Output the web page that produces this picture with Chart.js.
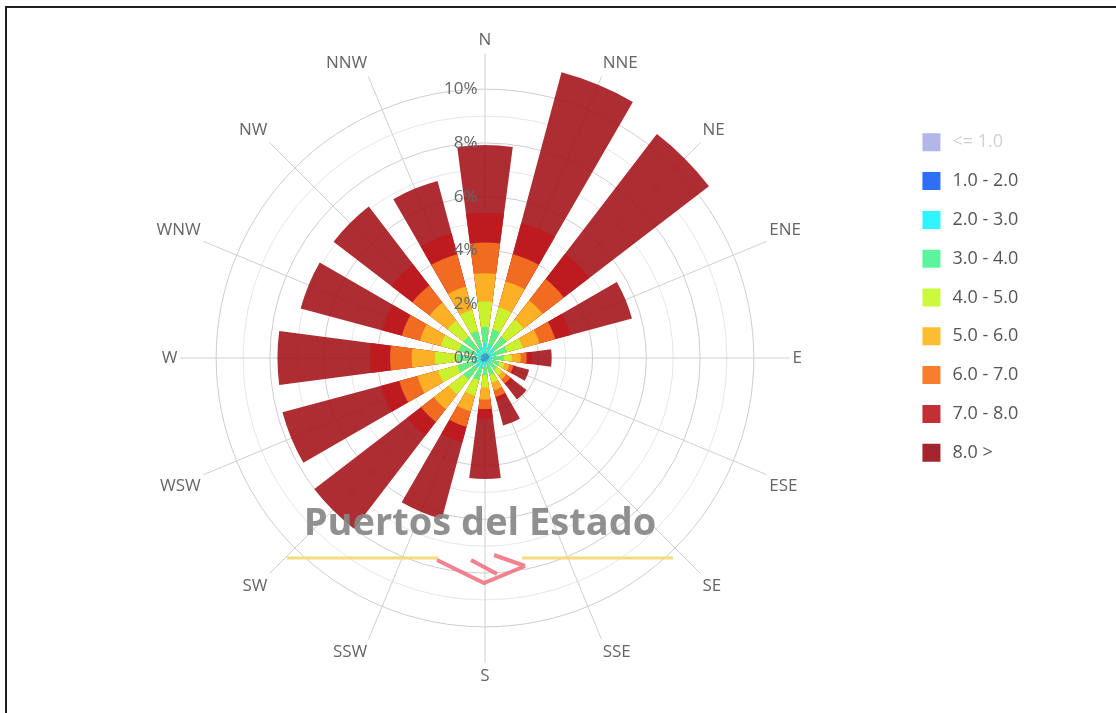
<!DOCTYPE html>
<html lang="es">
<head>
<meta charset="utf-8">
<title>Rosa de viento - Puertos del Estado</title>
<script src="https://cdn.jsdelivr.net/npm/chart.js@4.4.1/dist/chart.umd.min.js"></script>
<style>
  html, body { margin: 0; padding: 0; background: #fff; overflow: hidden; }
  #frame { position: absolute; left: 5px; top: 6px; width: 1300px; height: 900px; border: 2px solid #202020; }
  #box { position: absolute; left: 0; top: 0; width: 1116px; height: 713px; }
</style>
</head>
<body>
<div id="frame"></div>
<div id="box"><canvas id="rose"></canvas></div>
<script>
const directions = ['N', 'NNE', 'NE', 'ENE', 'E', 'ESE', 'SE', 'SSE', 'S', 'SSW', 'SW', 'WSW', 'W', 'WNW', 'NW', 'NNW'];
const speedBins = ['<= 1.0', '1.0 - 2.0', '2.0 - 3.0', '3.0 - 4.0', '4.0 - 5.0', '5.0 - 6.0', '6.0 - 7.0', '7.0 - 8.0', '8.0 >'];
const tickLabels = ['0%', '2%', '4%', '6%', '8%', '10%'];

// frequency (%) per direction, N first then clockwise. "<= 1.0" is switched off in the legend
const bin1_2 = [0.17, 0.17, 0.17, 0.16, 0.14, 0.12, 0.12, 0.12, 0.14, 0.14, 0.17, 0.17, 0.15, 0.15, 0.15, 0.15];
const bin2_3 = [0.38, 0.33, 0.28, 0.24, 0.21, 0.18, 0.18, 0.23, 0.21, 0.26, 0.28, 0.28, 0.28, 0.25, 0.25, 0.30];
const bin3_4 = [0.60, 0.60, 0.55, 0.45, 0.35, 0.25, 0.25, 0.30, 0.30, 0.45, 0.55, 0.60, 0.62, 0.60, 0.60, 0.60];
const bin4_5 = [0.95, 0.85, 0.80, 0.60, 0.30, 0.20, 0.25, 0.30, 0.45, 0.60, 0.70, 0.75, 0.81, 0.70, 0.75, 0.80];
const bin5_6 = [1.05, 1.00, 0.90, 0.65, 0.33, 0.20, 0.20, 0.30, 0.45, 0.60, 0.70, 0.80, 0.87, 0.80, 0.85, 0.90];
const bin6_7 = [1.15, 1.05, 1.00, 0.60, 0.22, 0.15, 0.20, 0.25, 0.35, 0.60, 0.60, 0.70, 0.80, 0.70, 0.80, 1.25];
const bin7_8 = [1.10, 1.20, 1.20, 0.60, 0.20, 0.10, 0.10, 0.15, 0.35, 0.60, 0.65, 0.70, 0.75, 0.75, 1.00, 0.80];
const bin8up = [2.52, 5.80, 5.60, 2.36, 0.73, 0.50, 0.65, 0.95, 2.25, 2.95, 4.35, 3.80, 3.44, 3.15, 2.70, 2.02];

const legendColors = ['#b4b5e8', '#2e6ff6', '#2ff4ff', '#5cf59d', '#cbf93e', '#fdbd33', '#f77e2f', '#c32f36', '#a3262d'];
const barColors = ['rgba(45,95,235,0.9)', 'rgba(30,240,252,0.9)', 'rgba(80,240,150,0.9)', 'rgba(195,248,45,0.9)',
                   'rgba(252,184,38,0.9)', 'rgba(246,118,32,0.9)', 'rgba(192,26,32,0.9)', 'rgba(164,22,28,0.9)'];

const maxPercent = 11.33;   // outer ring of the pane sits at 11 %
const fontFamily = '"Open Sans", "DejaVu Sans", sans-serif';

// 48 slots of 7.5 deg so a bar can be centred on its direction
function ringLabels(offset) {
    let out = [];
    for (let i = 0; i < 48; i++) {
        out.push(i % 3 === offset ? directions[(i - offset) / 3] : '');
    }
    return out;
}

// each bar (15 deg) is followed by an empty slot (7.5 deg); bins are stacked by drawing running totals
let running = directions.map(() => 0);
let slotLabels = [];
directions.forEach(d => slotLabels.push(d, ''));

const datasets = [bin1_2, bin2_3, bin3_4, bin4_5, bin5_6, bin6_7, bin7_8, bin8up].map((values, k) => {
    let data = [];
    values.forEach((v, d) => {
        running[d] += v;
        data.push(Math.round(running[d] * 1000) / 1000, 0);
    });
    return {
        label: speedBins[k + 1],
        data: data,
        backgroundColor: barColors[k],
        borderWidth: 0,
        rAxisID: 'r',
        angle: c => (c.dataIndex % 2 ? 7.5 : 15)
    };
});

const sharedPointLabels = { display: true, padding: -5.5, font: { family: fontFamily, size: 17 } };

// watermark of the original image
const watermark = {
    id: 'watermark',
    afterDatasetsDraw(chart) {
        const s = chart.scales.r;
        const ctx = chart.ctx;
        const cx = s.xCenter, cy = s.yCenter;
        ctx.save();
        ctx.font = 'bold 38px ' + fontFamily;
        ctx.fillStyle = 'rgba(135,135,135,0.92)';
        ctx.textAlign = 'center';
        ctx.textBaseline = 'alphabetic';
        ctx.fillText('Puertos del Estado', cx - 5, cy + 177);

        ctx.strokeStyle = '#f8da7c';
        ctx.lineWidth = 3;
        ctx.beginPath();
        ctx.moveTo(cx - 198, cy + 200); ctx.lineTo(cx - 47, cy + 200);
        ctx.moveTo(cx + 37, cy + 200); ctx.lineTo(cx + 188, cy + 200);
        ctx.stroke();

        ctx.strokeStyle = 'rgba(240,108,124,0.85)';
        ctx.lineWidth = 4;
        ctx.beginPath();
        ctx.moveTo(cx - 48, cy + 202); ctx.lineTo(cx - 1, cy + 225); ctx.lineTo(cx + 40, cy + 208);
        ctx.moveTo(cx - 14, cy + 202); ctx.lineTo(cx + 12, cy + 216);
        ctx.moveTo(cx + 9, cy + 197); ctx.lineTo(cx + 40, cy + 208);
        ctx.stroke();
        ctx.restore();
    }
};

new Chart(document.getElementById('rose'), {
    type: 'polarArea',
    data: { labels: slotLabels, datasets: datasets },
    options: {
        responsive: true,
        maintainAspectRatio: false,
        animation: false,
        layout: { padding: { left: 70, right: 87.8, top: 30, bottom: 26 } },
        scales: {
            r: {
                type: 'radialLinear',
                min: 0,
                max: maxPercent,
                startAngle: -7.5,
                labels: ringLabels(1),
                grid: {
                    circular: true,
                    lineWidth: 1,
                    color: c => (c.tick.value > 11.01 ? 'transparent' : (c.tick.value % 2 === 0 || c.tick.value === 11) ? '#cdcdcd' : '#e6e6e6')
                },
                angleLines: {
                    display: true,
                    color: c => (c.index % 3 === 1 ? '#cfcfcf' : 'transparent'),
                    lineWidth: c => (c.index % 3 === 1 ? 1 : 0)
                },
                pointLabels: Object.assign({ color: '#666' }, sharedPointLabels),
                ticks: {
                    display: true, stepSize: 1, color: 'transparent', showLabelBackdrop: false,
                    backdropPadding: 0, font: { family: fontFamily, size: 17 }, callback: () => ''
                }
            },
            // second radial axis only for the % labels, drawn above the bars
            t: {
                type: 'radialLinear',
                axis: 'r',
                min: -0.000001,
                max: maxPercent,
                startAngle: 0,
                labels: ringLabels(0),
                grid: { display: false },
                angleLines: { display: false },
                pointLabels: Object.assign({ color: 'transparent' }, sharedPointLabels),
                ticks: {
                    display: true, z: 1, stepSize: 2, color: '#666', showLabelBackdrop: false,
                    backdropPadding: 0, font: { family: fontFamily, size: 17 },
                    callback: function (value) {
                        if (value > 10.5) return '';
                        let s = tickLabels[Math.round(value / 2)];
                        return s + '\u2007'.repeat(s.length + 2);
                    }
                }
            }
        },
        plugins: {
            tooltip: { enabled: false },
            legend: {
                position: 'right',
                align: 'start',
                onClick: () => {},
                title: { display: true, text: '', padding: { top: 70.5, bottom: 0 }, font: { size: 10 } },
                labels: {
                    boxWidth: 18,
                    boxHeight: 18,
                    padding: 20.8,
                    font: { family: fontFamily, size: 18 },
                    generateLabels: () => speedBins.map((name, i) => ({
                        text: '\u2009' + name,
                        fillStyle: legendColors[i],
                        strokeStyle: legendColors[i],
                        lineWidth: 0,
                        hidden: false,
                        fontColor: i === 0 ? '#d2d2d2' : '#555',
                        index: i
                    }))
                }
            }
        }
    },
    plugins: [watermark]
});
</script>
</body>
</html>
